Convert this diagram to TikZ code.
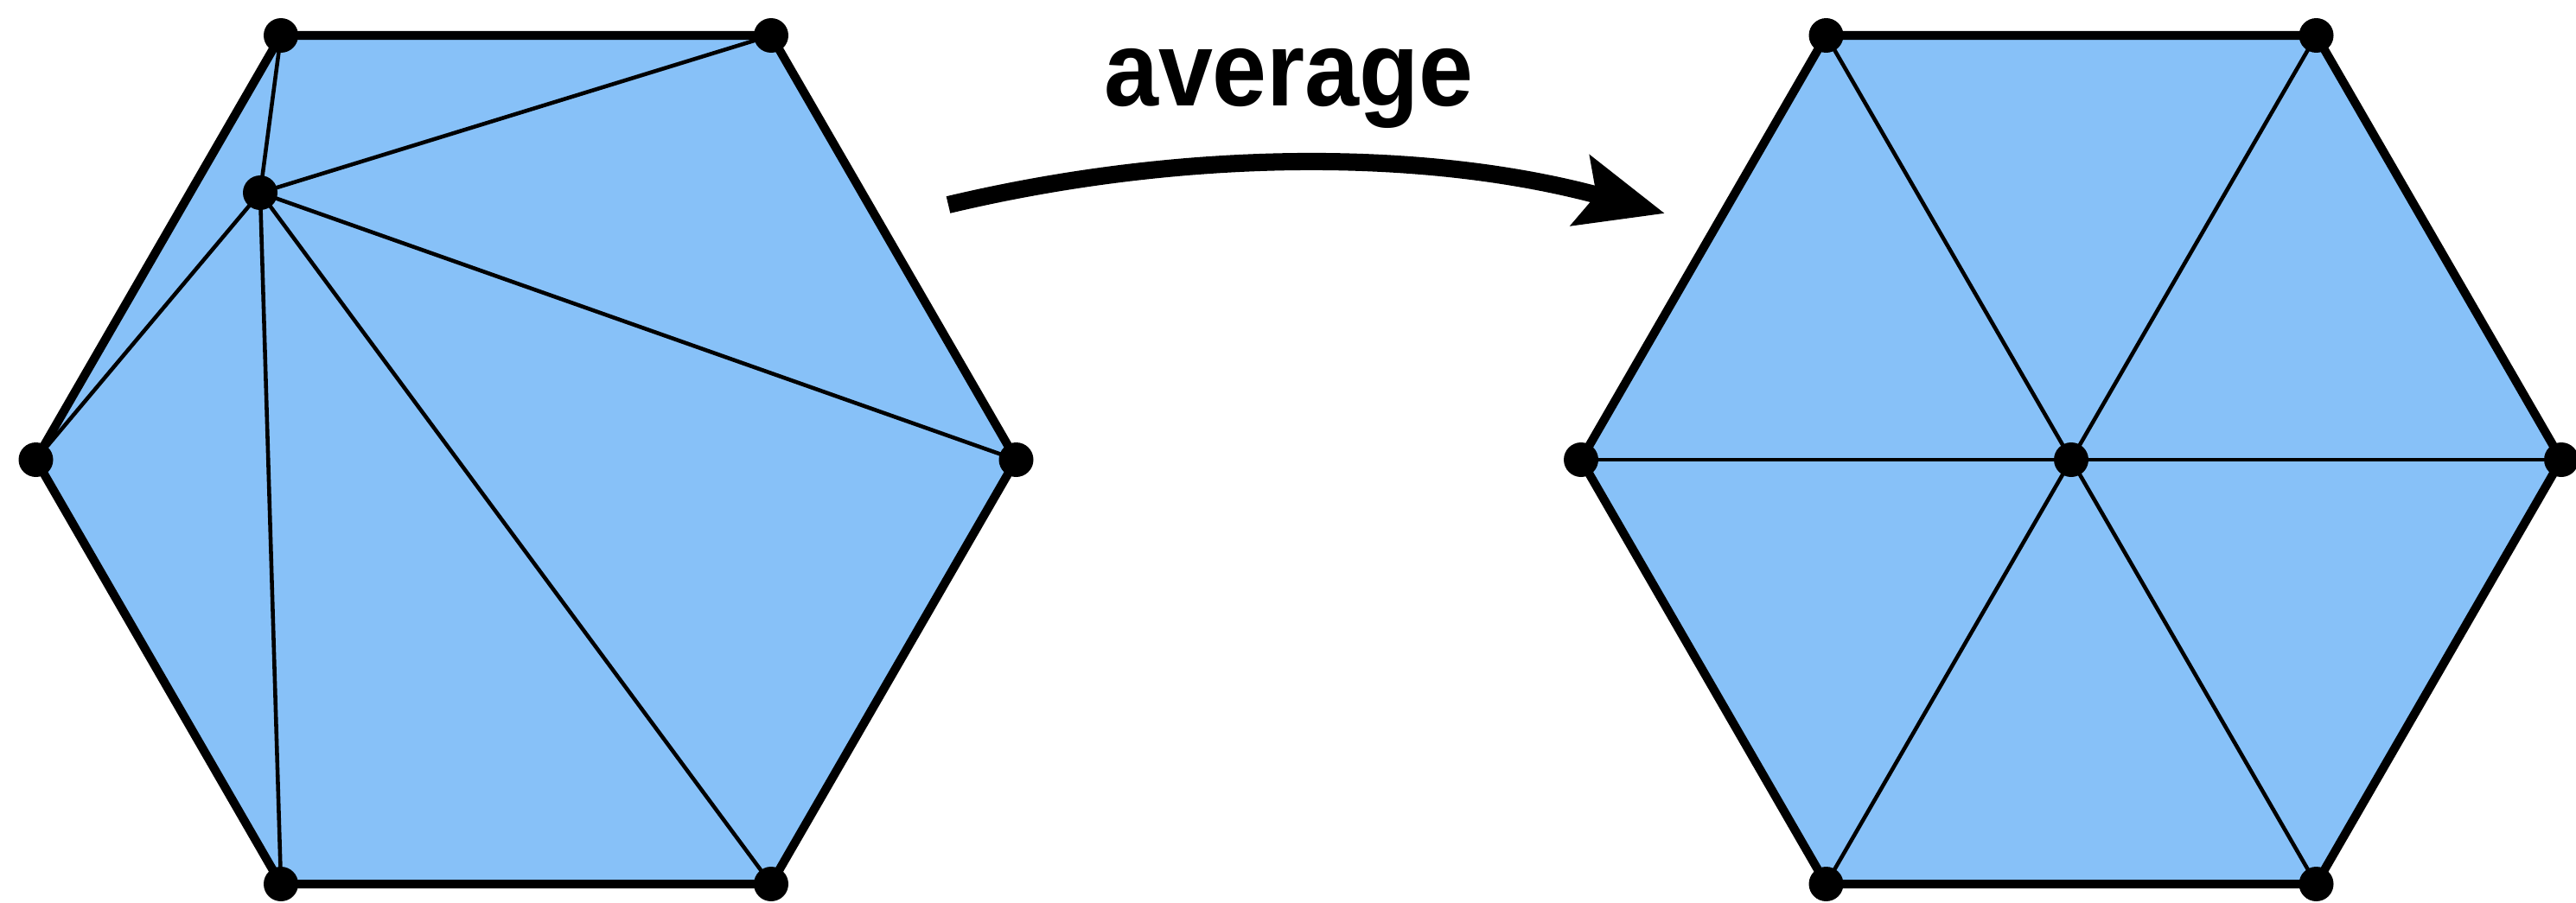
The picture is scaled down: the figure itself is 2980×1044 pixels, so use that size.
\documentclass[tikz,border=0pt]{standalone}
\usepackage{fontspec}
\usepackage{tikz}
\usetikzlibrary{arrows.meta,calc}
\newfontfamily\labelfont{Liberation Sans}[FakeStretch=0.92]
\definecolor{ink}      {HTML}{000000}
\definecolor{meshblue} {HTML}{87C1F8}
\tikzset{
  % --- mesh
  face/.style  = {fill=meshblue, draw=none},
  rim/.style   = {draw=ink, line width=2.85pt, line join=miter},
  spoke/.style = {draw=ink, line width=1.3pt},
  vtx/.style   = {fill=ink},
  % --- arrow
  flow/.style  = {draw=ink, line width=5.7pt,
                  -{Stealth[length=1cm,width=0.82cm,inset=0.18cm]}},
  lbl/.style   = {font=\labelfont\bfseries\fontsize{35}{39}\selectfont, text=ink,
                  inner sep=0pt},
}

\begin{document}
\begin{tikzpicture}[x=0.1mm,y=-0.1mm]
  \useasboundingbox (0,0) rectangle (2980,1044);

  % --- left hexagon, skewed interior vertex
  \coordinate (ltl) at (325,41);
  \coordinate (ltr) at (892,41);
  \coordinate (lr)  at (1175.5,532);
  \coordinate (lbr) at (892,1023);
  \coordinate (lbl) at (325,1023);
  \coordinate (ll)  at (41.5,532);
  \coordinate (lp)  at (301,223);

  \fill[face] (ltl) -- (ltr) -- (lr) -- (lbr) -- (lbl) -- (ll) -- cycle;
  \foreach \v in {ltl,ltr,lr,lbr,lbl,ll}
    \draw[spoke] (lp) -- (\v);
  \draw[rim] (ltl) -- (ltr) -- (lr) -- (lbr) -- (lbl) -- (ll) -- cycle;
  \foreach \v in {ltl,ltr,lr,lbr,lbl,ll,lp}
    \fill[vtx] (\v) circle (20);

  % --- right hexagon, averaged vertex
  \coordinate (rtl) at (2112.5,41);
  \coordinate (rtr) at (2679.5,41);
  \coordinate (rr)  at (2963,532);
  \coordinate (rbr) at (2679.5,1023);
  \coordinate (rbl) at (2112.5,1023);
  \coordinate (rl)  at (1829,532);
  \coordinate (rc)  at (2396,532);

  \fill[face] (rtl) -- (rtr) -- (rr) -- (rbr) -- (rbl) -- (rl) -- cycle;
  \foreach \v in {rtl,rtr,rr,rbr,rbl,rl}
    \draw[spoke] (rc) -- (\v);
  \draw[rim] (rtl) -- (rtr) -- (rr) -- (rbr) -- (rbl) -- (rl) -- cycle;
  \foreach \v in {rtl,rtr,rr,rbr,rbl,rl,rc}
    \fill[vtx] (\v) circle (20);

  % --- arrow and label
  \coordinate (arrstart) at (1097,237);
  \coordinate (arrend)   at (1926,247);
  \draw[flow] (arrstart) .. controls (1370,172) and (1650,172) .. (arrend);
  \node[lbl,anchor=base] (avg) at (1491,122) {average};
\end{tikzpicture}
\end{document}
